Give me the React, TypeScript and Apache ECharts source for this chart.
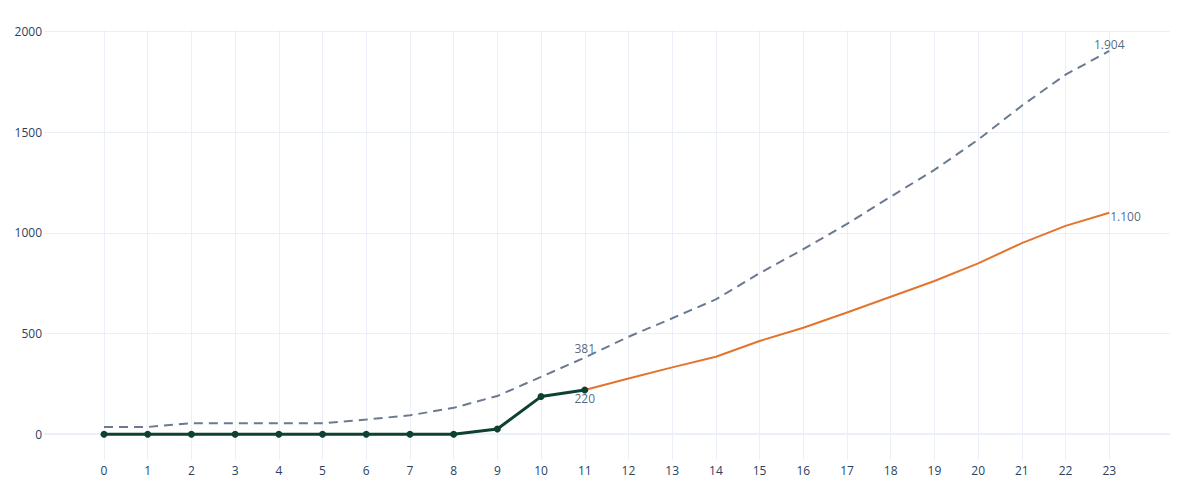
import React, { useEffect, useRef } from "react";
import * as echarts from "echarts";

const hours = [0, 1, 2, 3, 4, 5, 6, 7, 8, 9, 10, 11, 12, 13, 14, 15, 16, 17, 18, 19, 20, 21, 22, 23];
const actual = [0, 0, 0, 0, 0, 0, 0, 0, 0, 26, 187, 220];
const forecastStart = 11;
const forecast = [220, 277, 332, 385, 463, 529, 605, 683, 761, 849, 949, 1035, 1100];
const reference = [36, 36, 55, 55, 55, 55, 73, 94, 131, 190, 285, 381, 484, 576, 670, 800, 919, 1045, 1180, 1313, 1463, 1632, 1786, 1904];
const yTicks = [0, 500, 1000, 1500, 2000];

const fmt = (v: number) => {
  const s = Math.round(v).toString();
  return s.replace(/\B(?=(\d{3})+(?!\d))/g, ".");
};

export default function App() {
  const ref = useRef<HTMLDivElement>(null);
  useEffect(() => {
    if (!ref.current) return;
    const chart = echarts.init(ref.current, null, { renderer: "svg" });
    const textStyle = { fontFamily: "Open Sans", fontSize: 12, color: "#2a3f5f" };
    const lastRef = reference.length - 1;
    const option = {
      animation: false,
      textStyle,
      grid: { left: 44, right: 30, top: 30, bottom: 40, containLabel: false },
      xAxis: {
        type: "value",
        min: -1.373,
        max: 24.39,
        axisLine: { show: false },
        axisTick: { show: false, customValues: hours },
        axisLabel: { customValues: hours, margin: 4, formatter: (v: number) => String(v), ...textStyle },
        splitLine: { show: true, lineStyle: { color: "#EBF0F8", width: 1 } },
      },
      yAxis: {
        type: "value",
        min: -128,
        max: 2008,
        axisLine: { show: false },
        axisTick: { show: false, customValues: yTicks },
        axisLabel: { customValues: yTicks, margin: 2, formatter: (v: number) => String(v), ...textStyle },
        splitLine: { show: true, lineStyle: { color: "#EBF0F8", width: 1 } },
      },
      series: [
        {
          type: "line",
          name: "reference",
          data: reference.map((v, i) => [hours[i], v]),
          symbol: "none",
          lineStyle: { color: "#6b7a90", width: 2, type: [9, 6] },
          z: 2,
          markLine: {
            silent: true,
            symbol: "none",
            label: { show: false },
            lineStyle: { color: "#EBF0F8", width: 2, type: "solid" },
            data: [{ yAxis: 0 }],
            z: 1,
          },
        },
        {
          type: "line",
          name: "forecast",
          data: forecast.map((v, i) => [hours[forecastStart + i], v]),
          symbol: "none",
          lineStyle: { color: "#E2742F", width: 2 },
          z: 3,
        },
        {
          type: "line",
          name: "actual",
          data: actual.map((v, i) => [hours[i], v]),
          symbol: "circle",
          symbolSize: 7,
          itemStyle: { color: "#0e4132" },
          lineStyle: { color: "#0e4132", width: 3 },
          z: 4,
        },
        {
          type: "scatter",
          name: "labels",
          silent: true,
          symbolSize: 0,
          z: 5,
          data: [
            {
              value: [hours[11], reference[11]],
              label: { show: true, position: "top", distance: 3, formatter: fmt(reference[11]), ...textStyle },
            },
            {
              value: [hours[lastRef], reference[lastRef]],
              label: { show: true, position: "top", distance: 0, formatter: fmt(reference[lastRef]), ...textStyle },
            },
            {
              value: [hours[11], actual[11]],
              label: { show: true, position: "bottom", distance: 3, formatter: fmt(actual[11]), ...textStyle },
            },
            {
              value: [hours[forecastStart + forecast.length - 1], forecast[forecast.length - 1]],
              label: { show: true, position: "right", distance: 1, offset: [0, 4], formatter: fmt(forecast[forecast.length - 1]), ...textStyle },
            },
          ],
        },
      ],
    };
    chart.setOption(option as any);
    return () => chart.dispose();
  }, []);
  return (
    <div
      ref={ref}
      style={{ position: "absolute", left: 0, top: 0, width: 1200, height: 500, background: "#fff" }}
    />
  );
}
